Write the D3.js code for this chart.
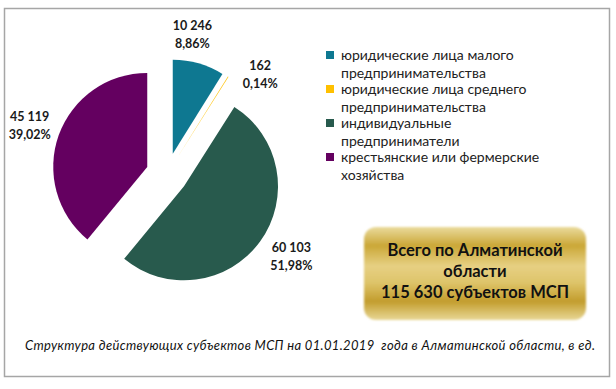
<!DOCTYPE html>
<html>
<head>
<meta charset="utf-8">
<script src="https://cdn.jsdelivr.net/npm/d3@7"></script>
<style>
  body { margin: 0; background: #fff; }
  svg { display: block; font-family: Lato, 'Noto Sans', sans-serif; }
</style>
</head>
<body>
<div id="chart"></div>
<script>
// data
const categories = [
  'юридические лица малого предпринимательства',
  'юридические лица среднего предпринимательства',
  'индивидуальные предприниматели',
  'крестьянские или фермерские хозяйства'
]
const legendLines = [
  ['юридические лица малого', 'предпринимательства'],
  ['юридические лица среднего', 'предпринимательства'],
  ['индивидуальные', 'предприниматели'],
  ['крестьянские или фермерские', 'хозяйства']
]
const values = [10246, 162, 60103, 45119]
const colors = ['#0e7891', '#ffc000', '#285a4d', '#640060']
const regionName = 'Алматинской'
const caption = 'Структура действующих субъектов МСП на 01.01.2019  года в Алматинской области, в ед.'

const drawChart = () => {
  var width = 616, height = 389
  var cx = 167, cy = 174, radius = 94, explode = 21

  var locale = d3.formatLocale({ decimal: ',', thousands: ' ', grouping: [3], currency: ['', ''] })
  var fmtNum = locale.format(',d')
  var fmtPct = locale.format('.2f')
  var total = d3.sum(values)

  var svg = d3.select('#chart').append('svg')
    .attr('width', width)
    .attr('height', height)

  var defs = svg.append('defs')
  var grad = defs.append('linearGradient')
    .attr('id', 'gold').attr('x1', 0).attr('y1', 0).attr('x2', 0).attr('y2', 1)
  grad.selectAll('stop')
    .data([['0%', '#eadb9c'], ['20%', '#cba737'], ['42%', '#e6d083'], ['60%', '#dec46a'], ['80%', '#c39d2d'], ['100%', '#e8d796']])
    .enter().append('stop')
    .attr('offset', d => d[0]).attr('stop-color', d => d[1])
  defs.append('filter').attr('id', 'soft')
    .attr('x', '-5%').attr('y', '-5%').attr('width', '110%').attr('height', '110%')
    .append('feGaussianBlur').attr('stdDeviation', 1.2)

  // frame
  svg.append('rect')
    .attr('x', 4.5).attr('y', 8.5)
    .attr('width', 605).attr('height', 368)
    .attr('fill', '#fff')
    .attr('stroke', '#a6a6a6')
    .attr('stroke-width', 1.5)

  var pie = d3.pie().sort(null).value(d => d)
  var arcs = pie(values)
  var arc = d3.arc().innerRadius(0).outerRadius(radius)

  var shift = d => {
    var a = (d.startAngle + d.endAngle) / 2
    return [Math.sin(a) * explode, -Math.cos(a) * explode]
  }

  var g = svg.append('g').attr('transform', 'translate(' + cx + ',' + cy + ')')

  g.selectAll('path.slice')
    .data(arcs)
    .enter().append('path')
    .attr('class', 'slice')
    .attr('d', arc)
    .attr('fill', (d, i) => colors[i])
    .attr('transform', d => 'translate(' + shift(d) + ')')

  // label placement: along bisector, small nudges like Excel's collision handling
  var nudge = [[-5.5, 140], [11.5, 135], [-2, 150], [-1, 145]]
  var labels = g.selectAll('g.lbl')
    .data(arcs)
    .enter().append('g')
    .attr('class', 'lbl')
    .attr('transform', (d, i) => {
      var a = (d.startAngle + d.endAngle) / 2 + nudge[i][0] * Math.PI / 180
      var r = nudge[i][1]
      return 'translate(' + (Math.sin(a) * r) + ',' + (-Math.cos(a) * r) + ')'
    })
  labels.append('text')
    .attr('text-anchor', 'middle')
    .attr('y', -6)
    .attr('font-size', 12.5)
    .attr('font-weight', 'bold')
    .attr('fill', '#1a1a1a')
    .text(d => fmtNum(d.value))
  labels.append('text')
    .attr('text-anchor', 'middle')
    .attr('y', 12)
    .attr('font-size', 12.5)
    .attr('font-weight', 'bold')
    .attr('fill', '#1a1a1a')
    .text(d => fmtPct(d.value / total * 100) + '%')

  // legend
  var legY = d3.scalePoint().domain(categories).range([55, 157])
  var leg = svg.append('g')
  var item = leg.selectAll('g')
    .data(categories)
    .enter().append('g')
    .attr('transform', d => 'translate(326,' + legY(d) + ')')
  item.append('rect')
    .attr('x', 0).attr('y', -4)
    .attr('width', 8).attr('height', 8)
    .attr('fill', (d, i) => colors[i])
  item.each(function (d, i) {
    var sel = d3.select(this)
    legendLines[i].forEach((line, j) => {
      sel.append('text')
        .attr('x', 15)
        .attr('y', 4.5 + j * 18)
        .attr('font-size', 14)
        .attr('fill', '#222')
        .text(line)
    })
  })

  // gold total box
  var box = svg.append('g')
  box.append('rect')
    .attr('x', 364).attr('y', 227)
    .attr('width', 222).attr('height', 93)
    .attr('rx', 12)
    .attr('fill', 'url(#gold)')
    .attr('filter', 'url(#soft)')
  var boxLines = ['Всего по ' + regionName, 'области', fmtNum(total) + ' субъектов МСП']
  box.selectAll('text')
    .data(boxLines)
    .enter().append('text')
    .attr('x', 475)
    .attr('y', (d, i) => 256 + i * 21)
    .attr('text-anchor', 'middle')
    .attr('font-size', 16.5)
    .attr('font-weight', 'bold')
    .attr('fill', '#111')
    .text(d => d)

  // caption
  svg.append('text')
    .attr('x', 310).attr('y', 350)
    .attr('text-anchor', 'middle')
    .attr('font-size', 13)
    .attr('font-style', 'italic')
    .attr('fill', '#111')
    .attr('xml:space', 'preserve')
    .attr('textLength', 570)
    .attr('lengthAdjust', 'spacing')
    .text(caption)
}

drawChart()
</script>
</body>
</html>
